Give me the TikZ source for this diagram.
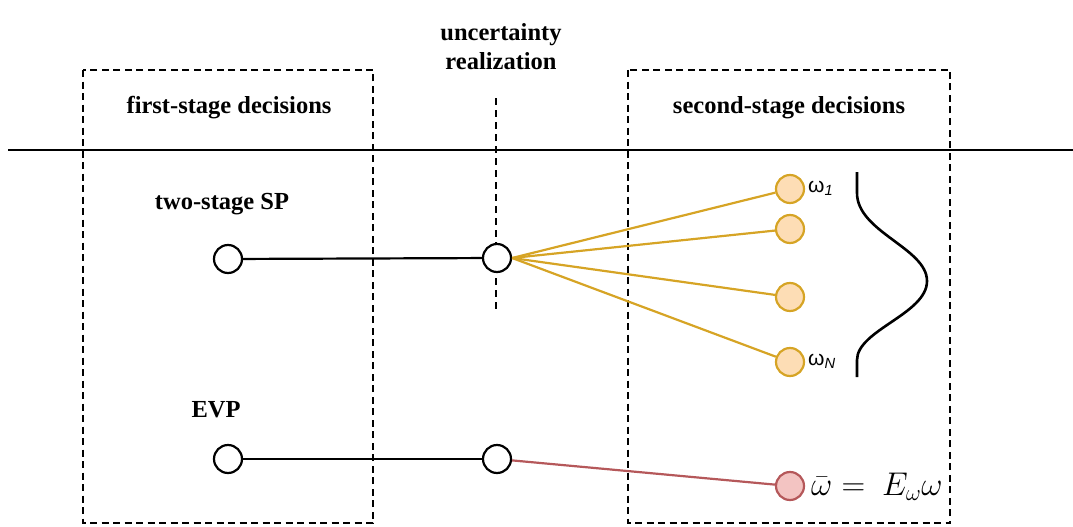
\documentclass[tikz,border=0pt]{standalone}
\usepackage{fontspec}
\setmainfont{Liberation Serif}
\newfontfamily\sansf{Liberation Sans}
\definecolor{orfill}{HTML}{FDDDB5}
\definecolor{ordraw}{HTML}{D6A425}
\definecolor{rdfill}{HTML}{F3C4C2}
\definecolor{rddraw}{HTML}{B5585A}
\begin{document}
\begin{tikzpicture}[x=1pt,y=-1pt,
  every node/.style={inner sep=0pt},
  dashbox/.style={draw, line width=2pt, dash pattern=on 7pt off 4.5pt},
  lbl/.style={font=\fontsize{24.5}{29}\selectfont\bfseries, align=center},
  wnode/.style={circle, draw, line width=2.2pt, minimum size=28pt, fill=white},
  onode/.style={circle, draw=ordraw, line width=2.2pt, minimum size=28pt, fill=orfill},
  rnode/.style={circle, draw=rddraw, line width=2.2pt, minimum size=28pt, fill=rdfill},
  conn/.style={line width=2.2pt},
  oconn/.style={line width=2.2pt, draw=ordraw},
  rconn/.style={line width=2.2pt, draw=rddraw},
  wlbl/.style={font=\fontsize{21}{22}\selectfont\sansf, anchor=west}]
\useasboundingbox (0,0) rectangle (1073,527);
% timeline
\coordinate (hl) at (8,150);
\coordinate (hr) at (1073,150);
\draw[line width=2.2pt] (hl) -- (hr);
% boxes
\draw[dashbox] (83,70) rectangle (373,523);
\draw[dashbox] (628,70) rectangle (950,523);
% uncertainty line
\coordinate (ut) at (496,98);
\coordinate (ub) at (496,312);
\draw[line width=2.2pt, dash pattern=on 7pt off 5pt] (ut) -- (ub);
% labels
\node[lbl] (unc) at (501,47) {uncertainty\\realization};
\node[lbl] (fs) at (229,108) {first-stage decisions};
\node[lbl] (ss) at (789,108) {second-stage decisions};
\node[lbl] (sp) at (222,204) {two-stage SP};
\node[lbl] (evp) at (216,410) {EVP};
% nodes
\node[wnode] (a1) at (228,259) {};
\node[wnode] (b1) at (497,258) {};
\node[wnode] (a2) at (228,459) {};
\node[wnode] (b2) at (497,459) {};
\node[onode] (o1) at (790,189) {};
\node[onode] (o2) at (790,229) {};
\node[onode] (o3) at (790,297) {};
\node[onode] (o4) at (790,362) {};
\node[rnode] (r1) at (790,486) {};
% connectors
\draw[conn] (a1) -- (b1);
\draw[conn] (a2) -- (b2);
\foreach \n in {o1,o2,o3,o4} \draw[oconn] (b1.east) -- (\n);
\draw[rconn] (b2) -- (r1);
% omega labels
\node[wlbl] (w1) at (808,188) {ω\textsubscript{\itshape 1}};
\node[wlbl] (wn) at (808,361) {ω\textsubscript{\itshape N}};
\node[anchor=west, font=\fontsize{24}{26}\selectfont] (eq) at (811,487) {\scalebox{1.32}{$\bar{\omega} =\ E_{\omega}\omega$}};
% bell curve
\draw[line width=2.6pt] (857,172) -- (857,193)
  .. controls (857,232) and (927,248) .. (927,281)
  .. controls (927,314) and (857,330) .. (857,360) -- (857,377);
\end{tikzpicture}
\end{document}
